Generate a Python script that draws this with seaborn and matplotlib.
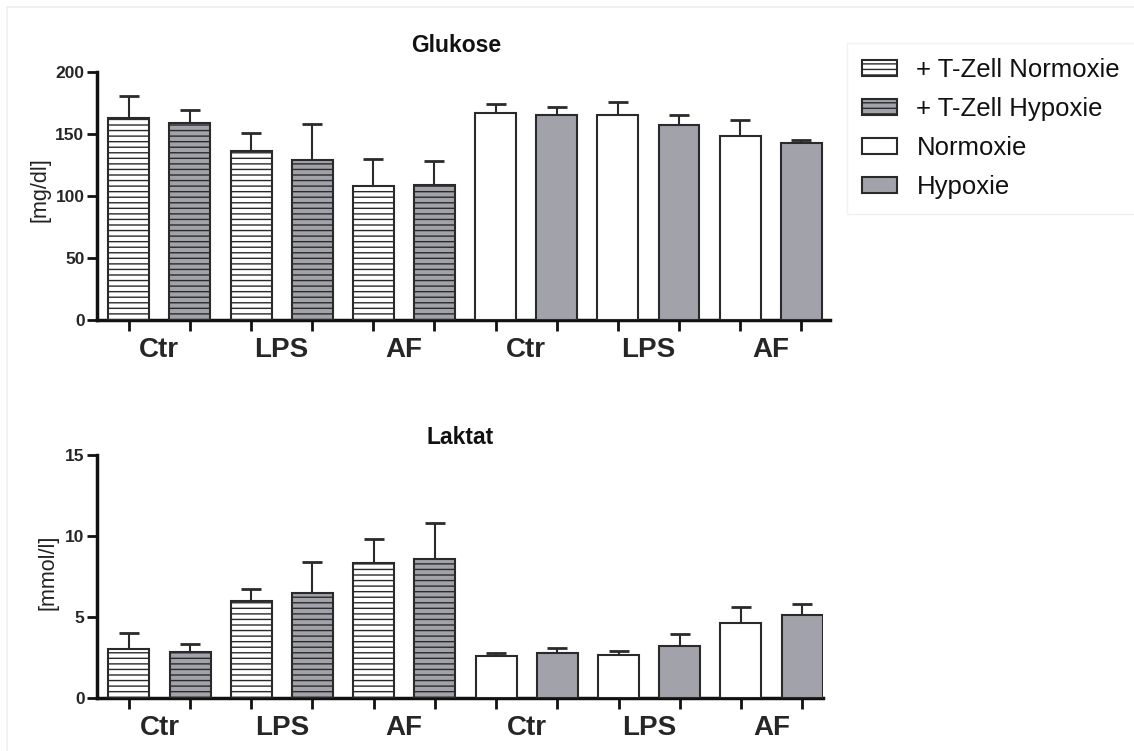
import numpy as np
import pandas as pd
import matplotlib
matplotlib.use("Agg")
import matplotlib.pyplot as plt
from matplotlib.patches import Patch
from matplotlib.lines import Line2D
import seaborn as sns

# ---------------- data ----------------
conditions = ["+ T-Zell Normoxie", "+ T-Zell Hypoxie", "Normoxie", "Hypoxie"]
group_labels = ["Ctr", "LPS", "AF", "Ctr", "LPS", "AF"]
bar_condition = ["+ T-Zell Normoxie", "+ T-Zell Hypoxie"] * 3 + ["Normoxie", "Hypoxie"] * 3

glukose_mean = [163, 159, 136, 129, 108, 109, 167, 165, 165, 157, 148, 143]
glukose_err = [18, 10, 15, 29, 22, 19, 7, 7, 11, 8, 13, 2]

laktat_mean = [3.0, 2.85, 6.0, 6.5, 8.35, 8.6, 2.6, 2.8, 2.65, 3.2, 4.65, 5.1]
laktat_err = [1.0, 0.5, 0.7, 1.9, 1.45, 2.2, 0.15, 0.3, 0.25, 0.75, 0.95, 0.7]

# ---------------- style ----------------
sns.set_theme(style="white")
plt.rcParams['font.family'] = ['Liberation Sans', 'DejaVu Sans']
plt.rcParams['hatch.linewidth'] = 1.0

GRAY = "#a2a2aa"
EDGE = "#2a2a2a"
HATCH = "---"
fill_map = {"+ T-Zell Normoxie": "white", "+ T-Zell Hypoxie": GRAY,
            "Normoxie": "white", "Hypoxie": GRAY}
hatch_map = {"+ T-Zell Normoxie": HATCH, "+ T-Zell Hypoxie": HATCH,
             "Normoxie": None, "Hypoxie": None}

W, H = 1134, 751
fig = plt.figure(figsize=(W / 100, H / 100), dpi=100)
fig.patch.set_facecolor("white")

# faint screenshot frame lines
fig.add_artist(Line2D([7 / W, 1], [1 - 7 / H, 1 - 7 / H], color="#ececec", lw=1.2))
fig.add_artist(Line2D([7 / W, 7 / W], [1 - 7 / H, 0], color="#f0f0f0", lw=1.2))


def draw_panel(rect, means, errs, ylim, yticks, xright, title, title_xy, ylabel, ylabel_xy):
    ax = fig.add_axes(rect)
    n = len(means)
    df = pd.DataFrame({
        "pos": [str(i) for i in range(n)],
        "value": means,
        "cond": bar_condition,
    })
    palette = {str(i): fill_map[bar_condition[i]] for i in range(n)}
    sns.barplot(data=df, x="pos", y="value", hue="pos", palette=palette,
                legend=False, width=0.67, edgecolor=EDGE, linewidth=1.5,
                errorbar=None, saturation=1, ax=ax, zorder=3)
    bars = sorted(ax.patches, key=lambda p: p.get_x())
    centers = []
    for i, p in enumerate(bars):
        h = hatch_map[bar_condition[i]]
        if h:
            p.set_hatch(h)
        p.set_edgecolor(EDGE)
        centers.append(p.get_x() + p.get_width() / 2)
    ax.errorbar(centers, means, yerr=[np.zeros(n), errs], fmt="none",
                ecolor=EDGE, elinewidth=1.5, capsize=7.2, capthick=2, zorder=2)

    ax.set_xlim(-0.52, xright)
    ax.set_ylim(*ylim)
    ax.set_yticks(yticks)
    ax.set_yticklabels([str(t) for t in yticks], fontsize=12.5, fontweight="bold")
    ax.set_xticks(range(n))
    ax.set_xticklabels([""] * n)
    ax.set_xticks([2 * g + 0.5 for g in range(len(group_labels))], minor=True)
    ax.set_xticklabels(group_labels, minor=True, fontsize=20, fontweight="bold")
    ax.tick_params(axis="x", which="major", direction="out", length=8, width=2,
                   color="#111111", bottom=True)
    ax.tick_params(axis="x", which="minor", length=0, pad=12, bottom=True)
    ax.tick_params(axis="y", direction="out", length=7, width=2, color="#111111",
                   left=True, pad=2)
    for s in ["top", "right"]:
        ax.spines[s].set_visible(False)
    for s in ["left", "bottom"]:
        ax.spines[s].set_linewidth(2.5)
        ax.spines[s].set_color("#111111")
    ax.set_xlabel("")
    ax.set_ylabel("")
    ax.set_facecolor("none")
    fig.text(title_xy[0] / W, 1 - title_xy[1] / H, title, ha="center", va="center",
             fontsize=16.5, fontweight="bold", color="#111111")
    fig.text(ylabel_xy[0] / W, 1 - ylabel_xy[1] / H, ylabel, ha="center", va="center",
             rotation=90, fontsize=15.5, color="#222222")
    return ax


draw_panel([97 / W, 1 - 320 / H, 733 / W, 248 / H], glukose_mean, glukose_err,
           (0, 200), [0, 50, 100, 150, 200], 11.47, "Glukose", (456, 45),
           "[mg/dl]", (40, 190))
draw_panel([97 / W, 1 - 698 / H, 726 / W, 243 / H], laktat_mean, laktat_err,
           (0, 15), [0, 5, 10, 15], 11.34, "Laktat", (460, 437),
           "[mmol/l]", (48, 572))

handles = [Patch(facecolor=fill_map[c], edgecolor=EDGE, linewidth=1.5,
                 hatch=hatch_map[c]) for c in conditions]
leg = fig.legend(handles, conditions, loc="upper left",
                 bbox_to_anchor=(834 / W, 1 - 30 / H), fontsize=18.5,
                 handlelength=1.36, handleheight=0.55, handletextpad=0.75,
                 labelspacing=0.58, borderpad=0.6, frameon=True, fancybox=False)
leg.get_frame().set_edgecolor("#eeeeee")
leg.get_frame().set_linewidth(1.0)
for t in leg.get_texts():
    t.set_color("#111111")

fig.savefig("out.png", dpi=100, facecolor="white")
